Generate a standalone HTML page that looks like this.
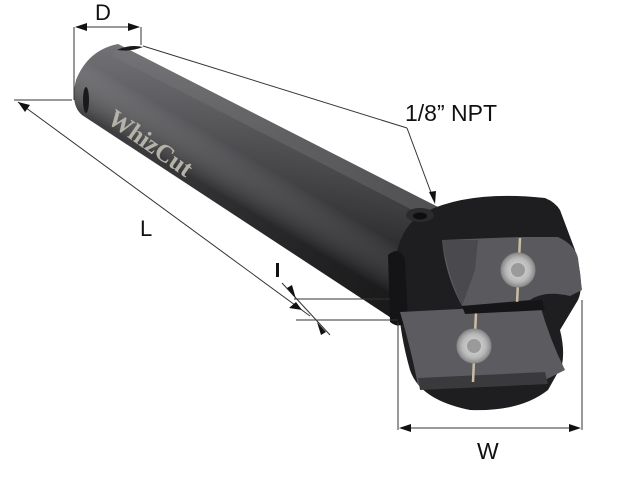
<!DOCTYPE html>
<html><head><meta charset="utf-8"><style>
html,body{margin:0;padding:0;background:#fff;width:636px;height:483px;overflow:hidden}
.t{font-family:"Liberation Sans",sans-serif}
</style></head><body>
<svg width="636" height="483" viewBox="0 0 636 483" xmlns="http://www.w3.org/2000/svg">
<defs>
<linearGradient id="ax" gradientUnits="userSpaceOnUse" x1="90" y1="75" x2="420" y2="265">
<stop offset="0" stop-color="#68686c"/><stop offset="0.5" stop-color="#454548"/><stop offset="1" stop-color="#262628"/>
</linearGradient>
<linearGradient id="shk" gradientUnits="userSpaceOnUse" x1="120" y1="44" x2="80" y2="112">
<stop offset="0" stop-color="#ffffff" stop-opacity="0.08"/><stop offset="0.4" stop-color="#ffffff" stop-opacity="0.02"/><stop offset="1" stop-color="#000" stop-opacity="0.35"/>
</linearGradient>
<radialGradient id="scr"><stop offset="0" stop-color="#e0e0e0"/><stop offset="0.7" stop-color="#b8b8b8"/><stop offset="1" stop-color="#8a8a8a"/></radialGradient>
</defs>
<!-- shank -->
<path d="M118,44 L440,208 L402,325 L82,115 Q70,105 76,80 Q88,50 118,44 Z" fill="url(#ax)"/>
<path d="M118,44 L440,208 L402,325 L82,115 Q70,105 76,80 Q88,50 118,44 Z" fill="url(#shk)"/>
<path d="M118,44 L440,208 L436,222 L112,56 Z" fill="#7a7a7e" opacity="0.35"/>
<ellipse cx="86" cy="100" rx="3" ry="13" fill="#1a1a1a"/>
<path d="M117,50 Q130,44 143,47 Q130,52 117,50 Z" fill="#1a1a1a"/>
<text x="0" y="0" transform="translate(106,122) rotate(35)" style="font-family:'Liberation Serif',serif;font-weight:bold" font-size="25" fill="#b5b2a8">WhizCut</text>
<!-- head -->
<path d="M395,262 Q400,225 425,212 Q470,190 545,198 Q555,202 560,210 L575,250 Q585,285 578,300 L560,330 Q565,350 562,365 L548,390 Q520,412 470,410 Q420,400 410,370 Q400,335 398,300 Z" fill="#1e1e20"/>
<path d="M388,255 Q400,245 405,260 L408,320 Q400,330 390,322 Z" fill="#141416"/>
<ellipse cx="420" cy="215" rx="14" ry="7" fill="#2b2b2d"/>
<ellipse cx="420" cy="216" rx="7" ry="3.5" fill="#0e0e0e"/>
<!-- upper insert -->
<path d="M442,240 L520,237 L558,237 Q575,245 578,258 L582,290 L570,296 Q545,290 530,300 L462,306 Q445,275 442,240 Z" fill="#5a5a5e"/>
<path d="M442,240 L478,240 L475,270 L462,306 Q448,275 442,240 Z" fill="#4a4a4e"/>
<line x1="520" y1="238" x2="517" y2="304" stroke="#c9bda4" stroke-width="2.5"/>
<circle cx="518" cy="270" r="17" fill="url(#scr)" stroke="#888" stroke-width="1"/>
<circle cx="518" cy="270" r="7" fill="#9a9a9a"/>
<!-- lower insert -->
<path d="M400,312 L540,305 Q550,340 565,370 L545,380 L418,385 Q410,345 400,312 Z" fill="#5c5c60"/>
<path d="M418,378 L545,372 L548,384 L420,390 Z" fill="#3a3a3d"/>
<line x1="476" y1="312" x2="473" y2="382" stroke="#c9bda4" stroke-width="2.5"/>
<circle cx="474" cy="346" r="17" fill="url(#scr)" stroke="#888" stroke-width="1"/>
<circle cx="474" cy="346" r="7" fill="#9a9a9a"/>
<path d="M462,306 L542,300 L545,310 L465,314 Z" fill="#151517"/>
<!-- dimension lines -->
<g stroke="#333" stroke-width="1" fill="none">
<line x1="74" y1="27" x2="74" y2="100"/>
<line x1="141" y1="27" x2="141" y2="45"/>
<line x1="76" y1="27" x2="139" y2="27"/>
<line x1="14" y1="100" x2="72" y2="100"/>
<line x1="18" y1="102" x2="310" y2="316"/>
<line x1="143" y1="46" x2="407" y2="128"/>
<line x1="407" y1="128" x2="433" y2="198"/>
<line x1="282" y1="283" x2="330" y2="335"/>
<line x1="294" y1="299" x2="390" y2="299"/>
<line x1="296" y1="320" x2="398" y2="320"/>
<line x1="398" y1="322" x2="398" y2="430"/>
<line x1="582" y1="300" x2="582" y2="430"/>
<line x1="401" y1="428" x2="579" y2="428"/>
</g>
<g fill="#111">
<path d="M75,27 L87,23 L87,31 Z"/><path d="M140,27 L128,23 L128,31 Z"/>
<path d="M18,102 L30,105 L25,112 Z"/><path d="M302,310 L296,302 L289,308 Z"/>
<path d="M435,204 L429,192 L436,191 Z"/>
<path d="M296,299 L287,288 L292,285 Z"/><path d="M317,322 L326,332 L321,335 Z"/>
<path d="M399,428 L411,424 L411,432 Z"/><path d="M581,428 L569,424 L569,432 Z"/>
</g>
<text class="t" x="95" y="20" font-size="22" fill="#111">D</text>
<text class="t" x="405" y="121" font-size="23" fill="#111">1/8” NPT</text>
<text class="t" x="140" y="236" font-size="22" fill="#111">L</text>
<rect x="276" y="263" width="3" height="14" fill="#111"/>
<text class="t" x="477" y="459" font-size="23" fill="#111">W</text>
</svg>
</body></html>
